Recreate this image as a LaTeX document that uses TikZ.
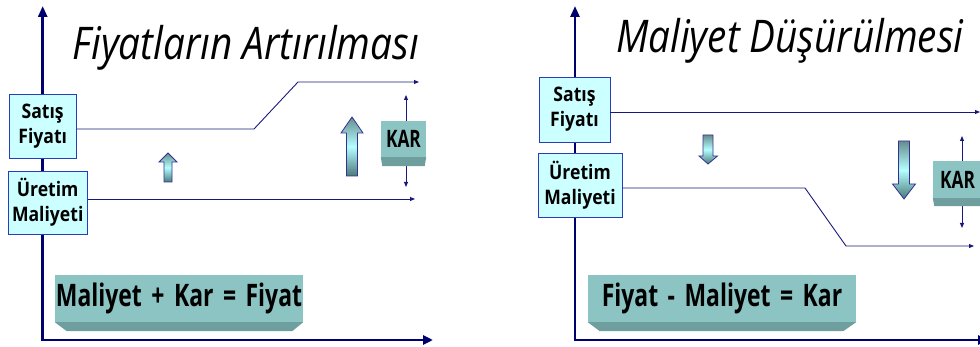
\documentclass[tikz,border=0pt]{standalone}
\usepackage{fontspec}
\setmainfont{Open Sans}
\newfontfamily\titlefont{Open Sans}[FakeStretch=0.86]
\newfontfamily\labelfont{Open Sans}[FakeStretch=0.88]
\newfontfamily\eqfont{Open Sans}[FakeStretch=0.74]
\newfontfamily\karfont{Open Sans}[FakeStretch=0.72]
\usetikzlibrary{arrows.meta}

\definecolor{axisblue}{RGB}{0,0,110}
\definecolor{lineblue}{RGB}{25,25,125}
\definecolor{boxedge}{RGB}{40,60,190}
\definecolor{boxfill}{RGB}{204,255,255}
\definecolor{slabface}{RGB}{140,196,196}
\definecolor{slabside}{RGB}{110,158,158}
\definecolor{arrowedge}{RGB}{50,50,150}
\definecolor{arrowdark}{RGB}{75,120,120}
\definecolor{arrowlight}{RGB}{180,255,255}

\newcommand{\eqspacing}{\spaceskip=9.5pt\relax}

\tikzstyle{axis}=[draw=axisblue,line width=2.6pt,line join=miter,{Triangle[length=11pt,width=9pt]}-{Triangle[length=10pt,width=9pt]}]
\tikzstyle{level}=[draw=lineblue,line width=0.9pt,-{Triangle[length=5pt,width=4pt]}]
\tikzstyle{span}=[draw=lineblue,line width=0.9pt,{Triangle[length=5pt,width=4pt]}-{Triangle[length=5pt,width=4pt]}]
\tikzstyle{itembox}=[draw=boxedge,fill=boxfill,line width=0.9pt,align=center,inner sep=0pt,font=\labelfont\bfseries\fontsize{20}{25}\selectfont]
\tikzstyle{slab}=[fill=slabface,inner sep=0pt]
\tikzstyle{slabside}=[fill=slabside]
\tikzstyle{trend}=[draw=arrowedge,line width=0.8pt,top color=arrowdark!85,bottom color=arrowdark,middle color=arrowlight]
\tikzstyle{title}=[anchor=base,font=\titlefont\itshape\fontsize{45}{45}\selectfont]
\tikzstyle{sum}=[slab,font=\eqfont\bfseries\fontsize{31}{31}\selectfont\eqspacing]
\tikzstyle{kar}=[slab,font=\karfont\bfseries\fontsize{24}{24}\selectfont]

\begin{document}
\begin{tikzpicture}[x=1pt,y=-1pt]
\useasboundingbox (0,0) rectangle (980,347);

% Fiyat artirma
   \coordinate (yL) at (42.7,6);
   \coordinate (oL) at (42.7,340);
   \coordinate (xL) at (433,340);
   \draw[axis] (yL) -- (oL) -- (xL);

   \node[title] (titleL) at (246,60) {Fiyatların Artırılması};

   \node[itembox,minimum width=67pt,minimum height=64pt] (satisL) at (42.7,126) {Satış\\Fiyatı};
   \node[itembox,minimum width=79pt,minimum height=63pt] (uretimL) at (47.7,202.5) {Üretim\\Maliyeti};

   \coordinate (sL1) at (254,129);
   \coordinate (sL2) at (298,82);
   \coordinate (sLend) at (419,82);
   \coordinate (uLend) at (415,199);
\draw[level] (satisL.east |- sL1) -- (sL1) -- (sL2) -- (sLend);
\draw[level] (uretimL.east |- uLend) -- (uLend);

   \shade[trend] (164,182) -- (164,162) -- (159,162) -- (168,153) -- (177,162) -- (172,162) -- (172,182) -- cycle;
   \shade[trend] (346.5,176) -- (346.5,133) -- (341,133) -- (352,117) -- (363,133) -- (357.5,133) -- (357.5,176) -- cycle;

   \coordinate (kLtop) at (406,95);
   \coordinate (kLbot) at (406,187);
\draw[span] (kLtop) -- (kLbot);
   \node[kar,minimum width=45pt,minimum height=36pt] (karL) at (403.5,139) {KAR};
   \fill[slabside] (karL.south west) -- (karL.south east) -- ([xshift=-1.5pt,yshift=-9pt]karL.south east) -- ([xshift=1.5pt,yshift=-9pt]karL.south west) -- cycle;

   \node[sum,minimum width=248pt,minimum height=47pt] (sumL) at (179,298.5) {Maliyet + Kar = Fiyat};
   \fill[slabside] (sumL.south west) -- (sumL.south east) -- ([xshift=-11pt,yshift=-9pt]sumL.south east) -- ([xshift=12pt,yshift=-9pt]sumL.south west) -- cycle;

% Maliyet dusurme
   \coordinate (yR) at (575,6);
   \coordinate (oR) at (575,340);
   \coordinate (xR) at (988,340);
   \draw[axis] (yR) -- (oR) -- (xR);

   \node[title] (titleR) at (790,53) {Maliyet Düşürülmesi};

   \node[itembox,minimum width=71pt,minimum height=65pt] (satisR) at (574.5,109.5) {Satış\\Fiyatı};
   \node[itembox,minimum width=84pt,minimum height=64pt] (uretimR) at (580,185) {Üretim\\Maliyeti};

   \coordinate (sRend) at (980,112);
   \coordinate (uR1) at (805,188);
   \coordinate (uR2) at (846,246);
   \coordinate (uRend) at (974,246);
\draw[level] (satisR.east |- sRend) -- (sRend);
\draw[level] (uretimR.east |- uR1) -- (uR1) -- (uR2) -- (uRend);

   \shade[trend] (703,135) -- (703,156) -- (699,156) -- (708,164) -- (717.5,156) -- (713,156) -- (713,135) -- cycle;
   \shade[trend] (898.5,141) -- (898.5,184) -- (892.5,184) -- (904,199) -- (915.5,184) -- (909.5,184) -- (909.5,141) -- cycle;

   \coordinate (kRtop) at (962,136);
   \coordinate (kRbot) at (962,228);
\draw[span] (kRtop) -- (kRbot);
   \node[kar,minimum width=49pt,minimum height=37pt] (karR) at (957.5,179.5) {KAR};
   \fill[slabside] (karR.south west) -- (karR.south east) -- ([xshift=-1.5pt,yshift=-8pt]karR.south east) -- ([xshift=1.5pt,yshift=-8pt]karR.south west) -- cycle;

   \node[sum,minimum width=268pt,minimum height=47pt] (sumR) at (722,298.5) {Fiyat - Maliyet = Kar};
   \fill[slabside] (sumR.south west) -- (sumR.south east) -- ([xshift=-13pt,yshift=-9pt]sumR.south east) -- ([xshift=12pt,yshift=-9pt]sumR.south west) -- cycle;

\end{tikzpicture}
\end{document}
